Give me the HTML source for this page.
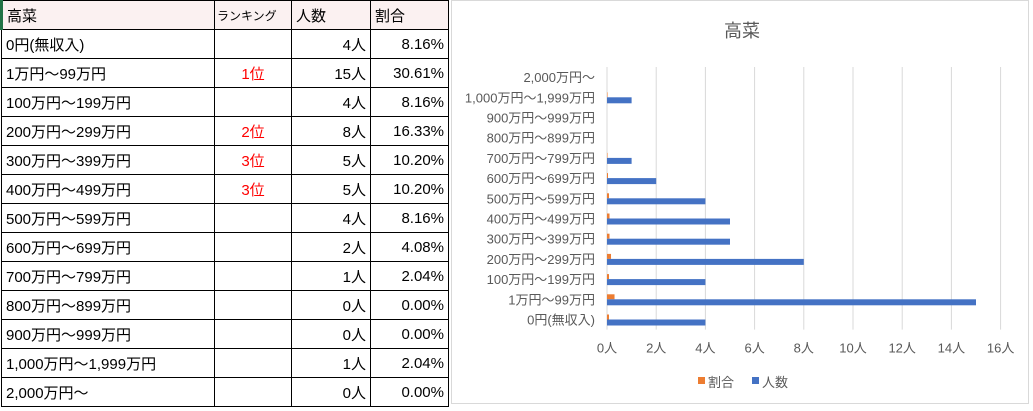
<!DOCTYPE html>
<html><head><meta charset="utf-8">
<style>
body{margin:0;width:1033px;height:411px;background:#fff;overflow:hidden;font-family:"Liberation Sans","Noto Sans CJK JP",sans-serif;position:relative}
#tbl{position:absolute;left:0;top:0;border-collapse:collapse;font-size:15px;color:#000;table-layout:fixed}
#tbl td{border:1px solid #000;height:29px;padding:0 4px;box-sizing:border-box;white-space:nowrap;overflow:hidden}
#tbl tr.h td{background:#fbf1f1}
.r{text-align:right}.c{text-align:center;color:#f00}
#chart{position:absolute;left:451px;top:0;width:578px;height:404px;border:1px solid #d9d9d9;box-sizing:border-box;background:#fff}
</style></head><body>
<table id="tbl">
<colgroup><col style="width:213px"><col style="width:77px"><col style="width:79px"><col style="width:78px"></colgroup>
<tbody id="tb"></tbody></table>
<div id="chart">
<svg id="svg" width="578" height="404" style="font-family:'Liberation Sans','Noto Sans CJK JP',sans-serif"></svg>
</div>
<script>
const categories=["0円(無収入)","1万円～99万円","100万円～199万円","200万円～299万円","300万円～399万円","400万円～499万円","500万円～599万円","600万円～699万円","700万円～799万円","800万円～899万円","900万円～999万円","1,000万円～1,999万円","2,000万円～"];
const counts=[4,15,4,8,5,5,4,2,1,0,0,1,0];
const ratios=[0.0816,0.3061,0.0816,0.1633,0.1020,0.1020,0.0816,0.0408,0.0204,0,0,0.0204,0];
const ranks=["","1位","","2位","3位","3位","","","","","","",""];
const ticks=[0,2,4,6,8,10,12,14,16];

const tb=document.getElementById('tb');
function row(cells,cls,name){const tr=document.createElement('tr');if(cls)tr.className=cls;


cells.forEach((t)=>{const td=document.createElement('td');td.textContent=t[0];if(t[1])td.className=t[1];


tr.appendChild(td);});tb.appendChild(tr);}
row([["高菜"],["ランキング"],["人数"],["割合"]],'h','table-header');
tb.lastChild.children[1].style.fontSize='12px';tb.lastChild.children[1].style.padding='0 2px';
tb.lastChild.children[0].style.borderLeft='3px solid #217346';
categories.forEach((c,i)=>row([[c],[ranks[i],'c'],[counts[i]+'人','r'],[(ratios[i]*100).toFixed(2)+'%','r']],'', 'table-row'));

const svg=document.getElementById('svg');const NS='http://www.w3.org/2000/svg';
function el(t,a,txt){const e=document.createElementNS(NS,t);for(const k in a)e.setAttribute(k,a[k]);if(txt!=null)e.textContent=txt;svg.appendChild(e);return e;}
const ox=155,px=24.6,plotTop=66,band=20.2,n=categories.length,bot=plotTop+band*n;
const X=v=>ox+v*px;
const Y=i=>bot-(i+0.5)*band;
let t=el('text',{x:290,y:36,'text-anchor':'middle','font-size':'18','fill':'#595959'},'高菜');


ticks.forEach(v=>{const g=el('line',{x1:X(v),x2:X(v),y1:plotTop,y2:bot,stroke:'#d9d9d9','stroke-width':1});


const l=el('text',{x:X(v),y:bot+23,'text-anchor':'middle','font-size':'13','fill':'#595959'},v+'人');

});
categories.forEach((c,i)=>{const l=el('text',{x:ox-12,y:Y(i)+5,'text-anchor':'end','font-size':'13','fill':'#595959'},c);


const o=el('rect',{x:X(0),y:Y(i)-5,width:Math.max(ratios[i]*px,0),height:5,fill:'#ed7d31'});


const b=el('rect',{x:X(0),y:Y(i),width:counts[i]*px,height:6,fill:'#4472c4'});

});
const lg=[['#ed7d31','割合',246],['#4472c4','人数',300]];
lg.forEach(d=>{const r=el('rect',{x:d[2],y:376,width:7,height:7,fill:d[0]});


const tx=el('text',{x:d[2]+10,y:386,'font-size':'13','fill':'#595959'},d[1]);

});
</script>
</body></html>
